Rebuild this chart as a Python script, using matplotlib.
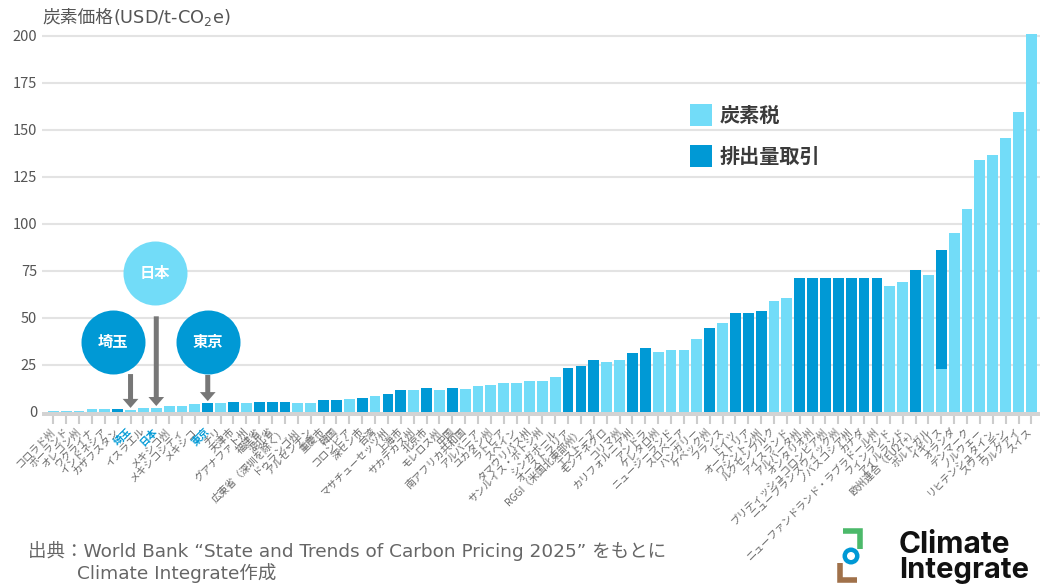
import matplotlib
matplotlib.use('Agg')
import matplotlib.pyplot as plt
from matplotlib.patches import FancyArrowPatch, ArrowStyle, Rectangle, Circle
from matplotlib.lines import Line2D
import numpy as np

plt.rcParams['font.family'] = ['Noto Sans CJK JP', 'DejaVu Sans']

categories = [
    'コロラド州', 'ポーランド', 'オレゴン州', 'ウクライナ', 'インドネシア', 'カザフスタン',
    '埼玉', 'イスラエル', '日本', 'メキシコ州', 'メキシコシティ', 'メキシコ', '東京',
    'チリ', '天津市', 'グアナファト州', '福建省', '湖北省', '広東省（深圳を除く）',
    'ドゥランゴ州', 'アルゼンチン', '重慶市', '韓国', 'コロンビア', '深セン市', '台湾',
    'マサチューセッツ州', '上海市', 'サカテカス州', '北京市', 'モレロス州', '中国',
    '南アフリカ共和国', 'アルバニア', 'ユカタン州', 'ラトビア', 'スペイン', 'タマウリパス州',
    'サンルイス・ポトシ州', 'シンガポール', 'オーストラリア', 'RGGI（米国北東部州）',
    'エストニア', 'モンテネグロ', 'コリマ州', 'カリフォルニア州', 'アンドラ', 'ケレタロ州',
    'ニュージーランド', 'スロベニア', 'ハンガリー', 'ケベック州', 'フランス', 'ドイツ',
    'オーストリア', 'ワシントン州', 'ルクセンブルク', 'アイスランド', 'アルバータ州',
    'オンタリオ州', 'ブリティッシュコロンビア州', 'ニューブランズウィック州', 'ノバスコシア州',
    'カナダ', 'ニューファンドランド・ラブラドール州', 'フィンランド', 'アイルランド',
    '欧州連合（EU27+）', 'ポルトガル', 'イギリス', 'オランダ', 'デンマーク', 'ノルウェー',
    'リヒテンシュタイン', 'スウェーデン', 'ウルグアイ', 'スイス',
]

# 炭素税 (carbon tax), USD/t-CO2e
tax = [
    0.5, 0.5, 0.5, 1.2, 1.2, 0,
    1.0, 2.0, 2.0, 3.0, 3.0, 4.0, 0,
    4.7, 0, 4.7, 0, 0, 0,
    4.7, 4.7, 0, 0, 6.9, 0, 8.5,
    0, 0, 11.4, 0, 11.4, 0,
    12.0, 13.5, 14.0, 15.1, 15.1, 16.2,
    16.2, 18.3, 0, 0,
    0, 26.2, 27.3, 0, 0, 31.6,
    32.6, 32.6, 38.4, 0, 47.3, 0,
    0, 0, 58.7, 60.3, 0,
    0, 0, 0, 0,
    0, 0, 66.9, 69.0,
    0, 72.7, 22.7, 94.9, 108.0, 133.9,
    136.5, 145.6, 159.4, 201.0,
]

# 排出量取引 (ETS), USD/t-CO2e
ets = [
    0, 0, 0, 0, 0, 1.5,
    0, 0, 0, 0, 0, 0, 4.6,
    0, 5.3, 0, 5.3, 5.3, 5.3,
    0, 0, 6.4, 6.4, 0, 7.4, 0,
    9.3, 11.4, 0, 12.5, 0, 12.5,
    0, 0, 0, 0, 0, 0,
    0, 0, 23.0, 24.1,
    27.3, 0, 0, 31.0, 33.6, 0,
    0, 0, 0, 44.7, 0, 52.5,
    52.5, 53.4, 0, 0, 71.1,
    71.1, 71.1, 71.1, 71.1,
    71.1, 71.1, 0, 0,
    75.4, 0, 63.3, 0, 0, 0,
    0, 0, 0, 0,
]

yticks = [0, 25, 50, 75, 100, 125, 150, 175, 200]
highlight = ['埼玉', '日本', '東京']
legend_labels = ['炭素税', '排出量取引']

LIGHT = '#72dcf8'
DARK = '#0099d5'
GRID = '#e3e3e3'
TXT = '#666666'
LATIN_FIRST = ['DejaVu Sans', 'Noto Sans CJK JP']

W, H = 1040, 587
fig = plt.figure(figsize=(W / 100, H / 100), dpi=100)
ax_left, ax_right, ax_bottom, ax_top = 42, 1040, 416, 31.8
ax = fig.add_axes([ax_left / W, 1 - ax_bottom / H, (ax_right - ax_left) / W, (ax_bottom - ax_top) / H])

x = np.arange(len(categories))
tax_a = np.array(tax)
ets_a = np.array(ets)

ax.set_xlim(-0.88, 76.67)
ax.set_ylim(-2.3, 202)

for yv in yticks[1:]:
    ax.axhline(yv, color=GRID, lw=1.5, zorder=0)
ax.axhspan(-2.3, 0, color='#d3d3d3', lw=0, zorder=1)

bw = 0.84
ax.bar(x, tax_a, width=bw, color=LIGHT, zorder=2, linewidth=0)
ax.bar(x, ets_a, width=bw, bottom=tax_a, color=DARK, zorder=2, linewidth=0)

for s in ax.spines.values():
    s.set_visible(False)

ax.set_yticks(yticks)
ax.set_yticklabels([str(v) for v in yticks])
ax.tick_params(axis='y', length=0, pad=3.6, labelsize=10.5, labelcolor='#555555')

ax.set_xticks(x)
ax.set_xticklabels(categories)
ax.tick_params(axis='x', length=6, width=1.5, color='#cccccc', pad=4, labelsize=7.3, labelcolor=TXT)
for lab in ax.get_xticklabels():
    lab.set_rotation(45)
    lab.set_ha('right')
    lab.set_va('center')
    lab.set_rotation_mode('anchor')
    if lab.get_text() in highlight:
        lab.set_color(DARK)
        lab.set_fontweight('bold')

# Annotations: circles + arrows
total = tax_a + ets_a
def ci(name):
    return categories.index(name)

circ_size = (2 * 32 / 1.389) ** 2
annos = [
    # name, circle dx, circle y, circle colour, arrow start y
    ('埼玉', -1.36, 37.1, DARK, 20.0),
    ('日本', -0.09, 73.8, LIGHT, 50.7),
    ('東京', 0.02, 37.1, DARK, 19.5),
]
for name, dx, cy, col, ay in annos:
    i = ci(name)
    ax.scatter([i + dx], [cy], s=circ_size, color=col, zorder=5, clip_on=False, linewidths=0)
    ax.text(i + dx, cy, name, color='white', fontsize=11, fontweight='bold',
            ha='center', va='center', zorder=6)
    arr = FancyArrowPatch((i, ay), (i, total[i] + 1.0),
                          arrowstyle=ArrowStyle.Simple(head_length=6.5, head_width=11.3, tail_width=3.6),
                          mutation_scale=1, color='#777777', lw=0, shrinkA=0, shrinkB=0, zorder=4)
    ax.add_patch(arr)

# Title (axis unit): Japanese part + unit part
t1 = fig.text(42 / W, 1 - 18 / H, '炭素価格', fontsize=12.8, color='#555555',
              ha='left', va='center')
ax.annotate('(USD/t-CO$_2$e)', xy=(1, 0.5), xycoords=t1, fontsize=12.8, color='#555555',
            ha='left', va='center', family='DejaVu Sans', annotation_clip=False)

# Legend
for k, (lab, col) in enumerate(zip(legend_labels, [LIGHT, DARK])):
    ytop = 104 + 41 * k
    fig.add_artist(Rectangle((690 / W, 1 - (ytop + 22) / H), 22 / W, 22 / H,
                             transform=fig.transFigure, color=col, lw=0))
    fig.text(720 / W, 1 - (ytop + 11) / H, lab, fontsize=14.5, fontweight='bold',
             color='#3a3a3a', ha='left', va='center')

# Source
fig.text(28 / W, 1 - 551 / H, '出典：World Bank “State and Trends of Carbon Pricing 2025” をもとに',
         fontsize=13.3, color=TXT, ha='left', va='center', family=LATIN_FIRST)
fig.text(77 / W, 1 - 573 / H, 'Climate Integrate作成', fontsize=13.3, color=TXT, ha='left',
         va='center', family=LATIN_FIRST)

# Logo
def fl(xs, ys, col, lw):
    fig.add_artist(Line2D([v / W for v in xs], [1 - v / H for v in ys], color=col, lw=lw,
                          transform=fig.transFigure, solid_capstyle='butt', solid_joinstyle='miter'))
fl([843, 860, 860], [531, 531, 549], '#4cb96a', 4)
fl([840, 840, 857], [563, 580, 580], '#a0714a', 4)
for r, col in [(8.5, DARK), (4.0, 'white')]:
    fig.add_artist(Circle((851 / 100, (H - 556) / 100), r / 100, transform=fig.dpi_scale_trans,
                          color=col, lw=0))
fig.text(899 / W, 1 - 545 / H, 'Climate', fontsize=21.5, fontweight='bold', color='#111111',
         ha='left', va='center', family=['Inter', 'DejaVu Sans'])
fig.text(899 / W, 1 - 570 / H, 'Integrate', fontsize=21, fontweight='bold', color='#111111',
         ha='left', va='center', family=['Inter', 'DejaVu Sans'])

fig.savefig('out.png', dpi=100)
